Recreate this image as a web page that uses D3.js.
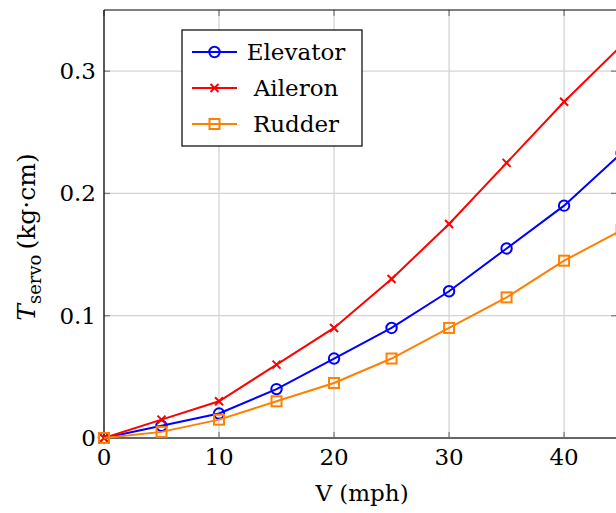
<!DOCTYPE html>
<html lang="en">
<head>
  <meta charset="UTF-8">
  <title>Servo torque vs speed</title>
  <script src="https://d3js.org/d3.v7.min.js"></script>
  <style>
    body { margin: 0; padding: 0; background: #fff; }
    .grid line { stroke: #d4d4d4; stroke-width: 1.3; }
    .tick-mark { stroke: #808080; stroke-width: 1.3; }
  </style>
</head>
<body>
  <div id="chart"></div>
  <script>
    // Data
    const speeds = [0, 5, 10, 15, 20, 25, 30, 35, 40, 45];
    const elevator = [0, 0.01, 0.02, 0.04, 0.065, 0.09, 0.12, 0.155, 0.19, 0.233];
    const aileron = [0, 0.015, 0.03, 0.06, 0.09, 0.13, 0.175, 0.225, 0.275, 0.321];
    const rudder = [0, 0.005, 0.015, 0.03, 0.045, 0.065, 0.09, 0.115, 0.145, 0.17];
    const seriesNames = ["Elevator", "Aileron", "Rudder"];
    const xTicks = [0, 10, 20, 30, 40];
    const yTicks = [0, 0.1, 0.2, 0.3];
    const xMax = 44.6, yMax = 0.35;

    const width = 616, height = 513;
    const margin = { top: 10, left: 104, bottom: 75 };
    const plotW = 513, plotH = height - margin.top - margin.bottom;
    const serif = "DejaVu Serif";
    const fs = 23;

    const svg = d3.select("#chart").append("svg")
      .attr("width", width)
      .attr("height", height);

    const x = d3.scaleLinear().domain([0, xMax]).range([margin.left, margin.left + plotW]);
    const y = d3.scaleLinear().domain([0, yMax]).range([margin.top + plotH, margin.top]);

    // Grid
    const grid = svg.append("g").attr("class", "grid");
    grid.selectAll(".gx").data(xTicks).enter().append("line")
      .attr("x1", d => x(d)).attr("x2", d => x(d))
      .attr("y1", y(0)).attr("y2", y(yMax));
    grid.selectAll(".gy").data(yTicks).enter().append("line")
      .attr("x1", x(0)).attr("x2", x(xMax))
      .attr("y1", d => y(d)).attr("y2", d => y(d));

    // Inward tick marks on all four sides
    const tl = 6;
    const ticks = svg.append("g");
    xTicks.forEach(t => {
      ticks.append("line").attr("class", "tick-mark")
        .attr("x1", x(t)).attr("x2", x(t)).attr("y1", y(0)).attr("y2", y(0) - tl);
      ticks.append("line").attr("class", "tick-mark")
        .attr("x1", x(t)).attr("x2", x(t)).attr("y1", y(yMax)).attr("y2", y(yMax) + tl);
    });
    yTicks.forEach(t => {
      ticks.append("line").attr("class", "tick-mark")
        .attr("x1", x(0)).attr("x2", x(0) + tl).attr("y1", y(t)).attr("y2", y(t));
      ticks.append("line").attr("class", "tick-mark")
        .attr("x1", x(xMax)).attr("x2", x(xMax) - tl).attr("y1", y(t)).attr("y2", y(t));
    });

    // Axis frame
    svg.append("line").attr("x1", x(0)).attr("x2", x(xMax)).attr("y1", y(yMax)).attr("y2", y(yMax))
      .attr("stroke", "#000").attr("stroke-width", 1.2);
    svg.append("line").attr("x1", x(0)).attr("x2", x(0)).attr("y1", y(yMax)).attr("y2", y(0))
      .attr("stroke", "#000").attr("stroke-width", 1.2);
    svg.append("line").attr("x1", x(0)).attr("x2", x(xMax)).attr("y1", y(0)).attr("y2", y(0))
      .attr("stroke", "#666").attr("stroke-width", 2);

    // Tick labels
    svg.append("g").selectAll("text").data(xTicks).enter().append("text")
      .attr("x", d => x(d)).attr("y", y(0) + 27)
      .attr("text-anchor", "middle").attr("font-size", fs).attr("font-family", serif)
      .text(d => d);
    svg.append("g").selectAll("text").data(yTicks).enter().append("text")
      .attr("x", x(0) - 8).attr("y", d => y(d) + 8)
      .attr("text-anchor", "end").attr("font-size", fs).attr("font-family", serif)
      .text(d => d);

    // Axis titles
    svg.append("text").attr("x", 362).attr("y", 501).attr("font-family", serif)
      .attr("text-anchor", "middle").attr("font-size", fs).text("V (mph)");
    const yl = svg.append("text").attr("font-family", serif)
      .attr("transform", "translate(35,237) rotate(-90)")
      .attr("text-anchor", "middle").attr("font-size", 25);
    yl.append("tspan").attr("font-style", "italic").text("T");
    yl.append("tspan").attr("font-size", 18).attr("dy", 6).text("servo");
    yl.append("tspan").attr("dy", -6).text("\u2009(kg\u00B7cm)");

    // Series
    const series = [
      { name: seriesNames[0], values: elevator, color: "#0000ff", marker: "circle" },
      { name: seriesNames[1], values: aileron, color: "#ff0000", marker: "cross" },
      { name: seriesNames[2], values: rudder, color: "#ff8000", marker: "square" }
    ];

    svg.append("clipPath").attr("id", "plot-clip").append("rect")
      .attr("x", x(0) - 8).attr("y", y(yMax)).attr("width", x(xMax) - x(0) + 8).attr("height", y(0) - y(yMax) + 8);

    function drawMarker(g, type, color) {
      if (type === "circle") {
        g.append("circle").attr("r", 5.2).attr("fill", "none").attr("stroke", color).attr("stroke-width", 2);
      } else if (type === "cross") {
        g.append("path").attr("d", "M-4,-4L4,4M-4,4L4,-4").attr("stroke", color).attr("stroke-width", 2);
      } else {
        g.append("rect").attr("x", -5).attr("y", -5).attr("width", 10).attr("height", 10)
          .attr("fill", "none").attr("stroke", color).attr("stroke-width", 2);
      }
    }

    const line = d3.line().x(d => x(d[0])).y(d => y(d[1]));
    const plot = svg.append("g").attr("clip-path", "url(#plot-clip)");
    series.forEach(s => {
      const pts = speeds.map((v, i) => [v, s.values[i]]);
      const g = plot.append("g");
      g.append("path").datum(pts).attr("d", line)
        .attr("fill", "none").attr("stroke", s.color).attr("stroke-width", 2);
      pts.forEach(p => {
        const m = g.append("g").attr("transform", `translate(${x(p[0])},${y(p[1])})`);
        drawMarker(m, s.marker, s.color);
      });
    });

    // Legend
    const lg = svg.append("g").attr("transform", "translate(182,30)");
    lg.append("rect").attr("width", 180).attr("height", 116)
      .attr("fill", "#fff").attr("stroke", "#000").attr("stroke-width", 1.2);
    series.forEach((s, i) => {
      const row = lg.append("g").attr("transform", `translate(0,${22 + i * 36})`);
      row.append("line").attr("x1", 10).attr("x2", 55).attr("stroke", s.color).attr("stroke-width", 2);
      drawMarker(row.append("g").attr("transform", "translate(32.5,0)"), s.marker, s.color);
      row.append("text").attr("x", 114).attr("y", 8).attr("text-anchor", "middle")
        .attr("font-family", serif).attr("font-size", fs).text(s.name);
    });
  </script>
</body>
</html>
